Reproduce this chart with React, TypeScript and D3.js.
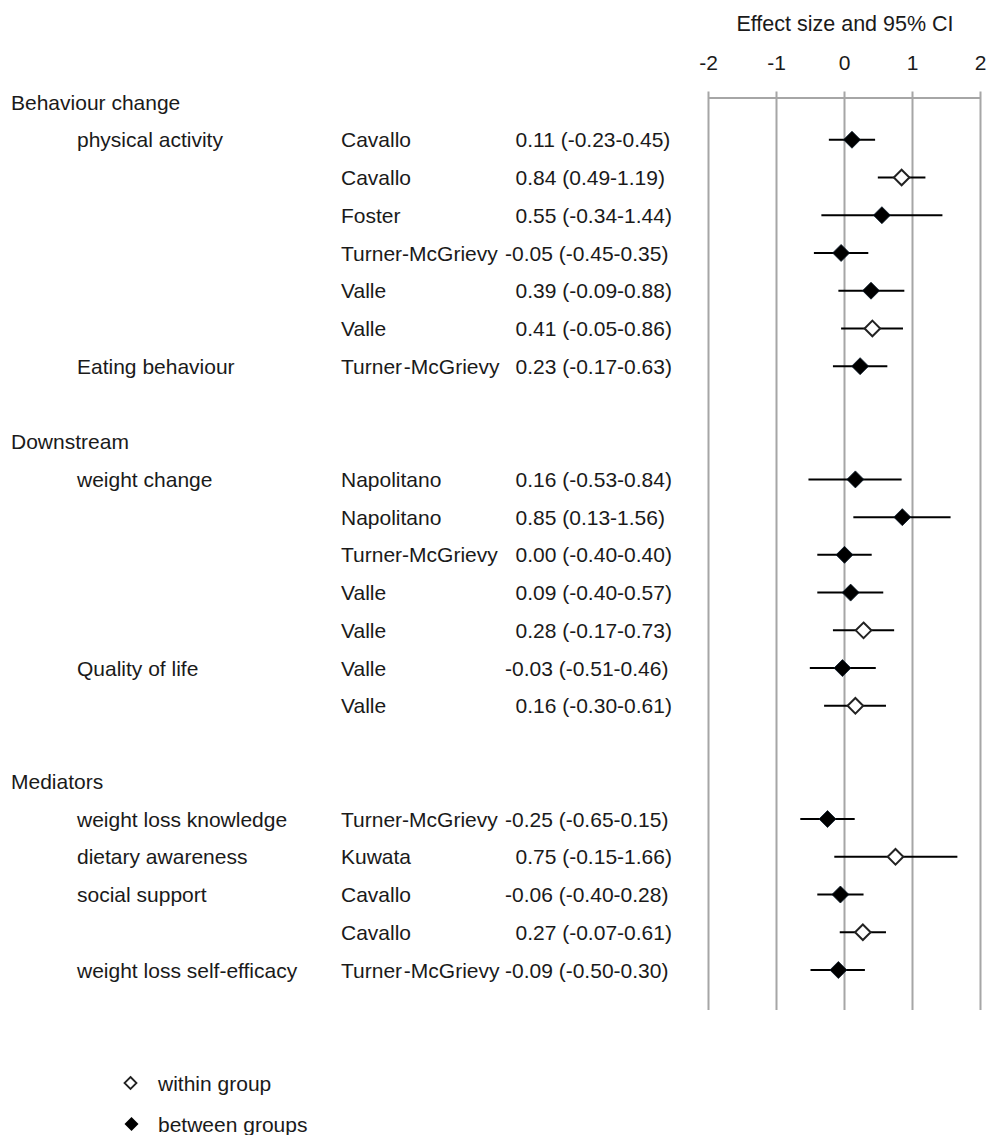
import React from "react";
import * as d3 from "d3";

// group headings and the slot (row) each sits on
const groupLabels = ["Behaviour change", "Downstream", "Mediators"];
const groupSlots = [0, 9, 18];

// outcome labels
const outcomeLabels = [
  "physical activity",
  "Eating behaviour",
  "weight change",
  "Quality of life",
  "weight loss knowledge",
  "dietary awareness",
  "social support",
  "weight loss self-efficacy",
];
const outcomeSlots = [1, 7, 10, 15, 19, 20, 21, 23];

// one entry per study row
const rowSlots = [1, 2, 3, 4, 5, 6, 7, 10, 11, 12, 13, 14, 15, 16, 19, 20, 21, 22, 23];
const authors = [
  "Cavallo", "Cavallo", "Foster", "Turner-McGrievy", "Valle", "Valle", "Turner\u200A-McGrievy",
  "Napolitano", "Napolitano", "Turner-McGrievy", "Valle", "Valle", "Valle", "Valle",
  "Turner-McGrievy", "Kuwata", "Cavallo", "Cavallo", "Turner\u200A-McGrievy",
];
const effects = [0.11, 0.84, 0.55, -0.05, 0.39, 0.41, 0.23, 0.16, 0.85, 0.0, 0.09, 0.28, -0.03, 0.16, -0.25, 0.75, -0.06, 0.27, -0.09];
const lowers = [-0.23, 0.49, -0.34, -0.45, -0.09, -0.05, -0.17, -0.53, 0.13, -0.4, -0.4, -0.17, -0.51, -0.3, -0.65, -0.15, -0.4, -0.07, -0.5];
const uppers = [0.45, 1.19, 1.44, 0.35, 0.88, 0.86, 0.63, 0.84, 1.56, 0.4, 0.57, 0.73, 0.46, 0.61, 0.15, 1.66, 0.28, 0.61, 0.3];
// "within" = open diamond, "between" = filled diamond
const kinds = [
  "between", "within", "between", "between", "between", "within", "between",
  "between", "between", "between", "between", "within", "between", "within",
  "between", "within", "between", "within", "between",
];

const xTicks = [-2, -1, 0, 1, 2];
const legendLabels = ["within group", "between groups"];
const legendKinds = ["within", "between"];

const FONT = "'Liberation Sans', Arial, sans-serif";
const fmt = (v: number) => v.toFixed(2);

function diamond(cx: number, cy: number, r: number) {
  return `M${cx},${cy - r}L${cx + r},${cy}L${cx},${cy + r}L${cx - r},${cy}Z`;
}

export default function App() {
  const W = 990;
  const H = 1135;

  const x = d3.scaleLinear().domain([-2, 2]).range([708.5, 980.5]);
  const y = d3.scaleLinear().domain([0, 23]).range([102, 970]);

  const axisY = 98;
  const gridTop = 91.5;
  const gridBottom = 1010;

  const rows = rowSlots.map((s, i) => ({
    slot: s,
    author: authors[i],
    e: effects[i],
    lo: lowers[i],
    hi: uppers[i],
    kind: kinds[i],
  }));

  const textStyle = { fontFamily: FONT, fontSize: 21, fill: "#1a1a1a" };

  return (
    <svg
      width={W}
      height={H}
      style={{ position: "absolute", left: 0, top: 0, background: "#fff" }}
    >
      {/* title + ticks */}
      <text x={845} y={31} textAnchor="middle" style={{ ...textStyle, fontSize: 21.5 }}>
        Effect size and 95% CI
      </text>
      {xTicks.map((t) => (
        <text key={"tl" + t} x={x(t)} y={70} textAnchor="middle" style={textStyle}>
          {t}
        </text>
      ))}

      {/* gridlines */}
      {xTicks.map((t) => (
        <line
          key={"g" + t}
          x1={x(t)}
          x2={x(t)}
          y1={gridTop}
          y2={gridBottom}
          stroke="#a6a6a6"
          strokeWidth={2}
        />
      ))}
      <line x1={x(-2)} x2={x(2)} y1={axisY} y2={axisY} stroke="#a6a6a6" strokeWidth={2} />

      {/* left labels */}
      {groupLabels.map((g, i) => (
        <text key={"gl" + i} x={11} y={y(groupSlots[i])} dy="0.36em" style={textStyle}>
          {g}
        </text>
      ))}
      {outcomeLabels.map((o, i) => (
        <text key={"ol" + i} x={77} y={y(outcomeSlots[i])} dy="0.36em" style={textStyle}>
          {o}
        </text>
      ))}
      {rows.map((r, i) => (
        <g key={"r" + i}>
          <text x={341} y={y(r.slot)} dy="0.36em" style={textStyle}>
            {r.author}
          </text>
          <text x={r.e < 0 ? 505 : 515.5} y={y(r.slot)} dy="0.36em" style={textStyle}>
            {`${fmt(r.e)} (${fmt(r.lo)}-${fmt(r.hi)})`}
          </text>
        </g>
      ))}

      {/* CI lines and markers */}
      {rows.map((r, i) => (
        <g key={"m" + i}>
          <line x1={x(r.lo)} x2={x(r.hi)} y1={y(r.slot)} y2={y(r.slot)} stroke="#000" strokeWidth={2} />
          {r.kind === "between" ? (
            <path d={diamond(x(r.e), y(r.slot), 8.5)} fill="#000" stroke="#0b1a2a" strokeWidth={0.8} />
          ) : (
            <path d={diamond(x(r.e), y(r.slot), 7.8)} fill="#fff" stroke="#222" strokeWidth={2} />
          )}
        </g>
      ))}

      {/* legend */}
      {legendLabels.map((l, i) => {
        const ly = 1083 + i * 41;
        return (
          <g key={"lg" + i}>
            {legendKinds[i] === "between" ? (
              <path d={diamond(131.5, ly, 7)} fill="#000" />
            ) : (
              <path d={diamond(130.5, ly, 6)} fill="#fff" stroke="#222" strokeWidth={1.8} />
            )}
            <text x={158} y={ly} dy="0.36em" style={textStyle}>
              {l}
            </text>
          </g>
        );
      })}
    </svg>
  );
}
